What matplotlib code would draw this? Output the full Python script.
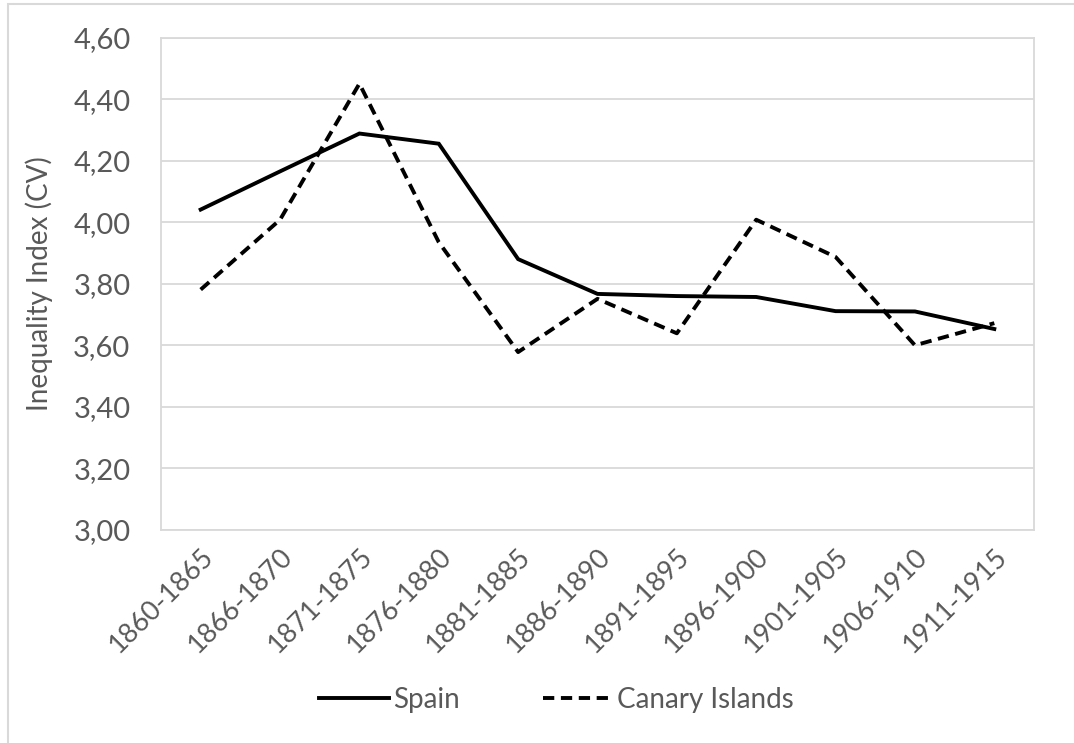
import matplotlib
matplotlib.use('Agg')
import matplotlib.pyplot as plt
from matplotlib.patches import Rectangle

plt.rcParams['font.family'] = ['Lato', 'DejaVu Sans']

# periods and inequality index values
periods = ['1860-1865', '1866-1870', '1871-1875', '1876-1880', '1881-1885', '1886-1890',
           '1891-1895', '1896-1900', '1901-1905', '1906-1910', '1911-1915']
spain = [4.041, 4.165, 4.288, 4.255, 3.880, 3.767, 3.760, 3.757, 3.711, 3.710, 3.653]
canary = [3.781, 4.008, 4.450, 3.935, 3.578, 3.751, 3.639, 4.008, 3.887, 3.600, 3.672]
yticks = [3.0, 3.2, 3.4, 3.6, 3.8, 4.0, 4.2, 4.4, 4.6]

grey = '#595959'
light = '#d9d9d9'

fig = plt.figure(figsize=(10.74, 7.43), dpi=100)
ax = fig.add_axes([161/1074, 1 - 530/743, 873/1074, 492.5/743])

x = range(len(periods))
ax.plot(x, spain, color='black', lw=2.8, label='Spain', solid_joinstyle='miter')
ax.plot(x, canary, color='black', lw=2.8, dashes=(2.9, 1.7), label='Canary Islands')

ax.set_xlim(-0.5, len(periods) - 0.5)
ax.set_ylim(3.0, 4.6)
ax.set_yticks(yticks)
ax.set_yticklabels([('%.2f' % v).replace('.', ',') for v in yticks])
ax.set_xticks(list(x))
ax.set_xticklabels(periods, rotation=45, ha='right', rotation_mode='anchor')

ax.tick_params(axis='both', length=0, colors=grey)
ax.tick_params(axis='y', pad=22, labelsize=21)
ax.tick_params(axis='x', pad=10, labelsize=19.5)
ax.grid(axis='y', color=light, lw=1.3)
ax.set_axisbelow(True)
for s in ax.spines.values():
    s.set_color(light)
    s.set_linewidth(1.3)

ax.set_ylabel('Inequality Index (CV)', color=grey, fontsize=20)
ax.yaxis.set_label_coords(-0.124, 0.5)

fig.legend(loc='center', bbox_to_anchor=(0.518, 1 - 700/743), ncol=2, frameon=False,
           fontsize=20, labelcolor=grey, handlelength=2.5, handletextpad=0.15,
           columnspacing=3.0)

# outer chart border (only left and top visible)
fig.patches.append(Rectangle((8/1074, -0.1), 1.2, 1.1 - 4/743, transform=fig.transFigure,
                             fill=False, edgecolor=light, lw=1.5))

fig.savefig('out.png', dpi=100)
